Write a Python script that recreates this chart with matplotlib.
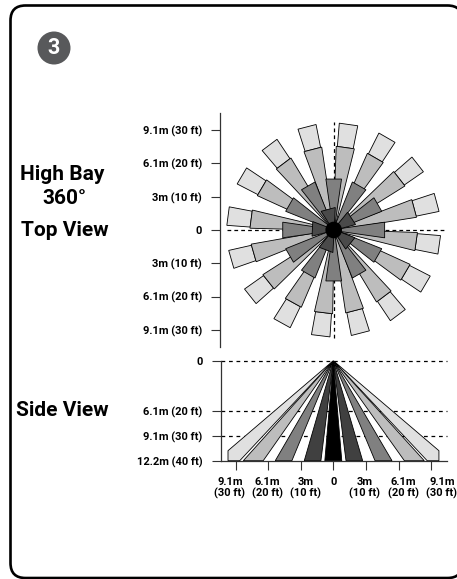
import numpy as np
import matplotlib
matplotlib.use("Agg")
import matplotlib.pyplot as plt
from matplotlib.patches import Polygon, Circle, FancyBboxPatch

plt.rcParams['font.family'] = ['Roboto', 'DejaVu Sans']
plt.rcParams['font.weight'] = 'bold'

W, H = 457, 579

# top view: beam bearings (deg clockwise from north), lengths and half widths in ft
outer_angles = [8, 30, 52, 75, 98, 120.5, 143, 165.5, 187, 209, 231.5, 254, 277.5, 300.5, 323, 345.5]
outer_r = [25, 32]
mid_r = 25
ring_angles = [0, 30, 60, 90, 120, 150, 180, 210, 240, 270, 300, 330]
ring_r = 15.3
inner_angles = [345, 57, 129, 201, 273]
inner_r = 6.4
hub_r = 2.5

top_ticks = [30, 20, 10, 0, -10, -20, -30]
top_labels = ['9.1m (30 ft)', '6.1m (20 ft)', '3m (10 ft)', '0', '3m (10 ft)', '6.1m (20 ft)', '9.1m (30 ft)']

# side view: beam footprints on the floor in ft
side_black = (-2.6, 2.6)
side_dark = [(-8.9, -3.8), (3.9, 9.0)]
side_gray = [(-17.8, -12.7), (12.8, 18.0)]
side_mid = [(-27.6, -21.5), (21.8, 27.9)]
side_light_left = [(-32.3, 36), (-32.3, 40), (-28.7, 40)]
side_light_right = [(32.4, 36), (32.4, 40), (28.8, 40)]

side_yticks = [0, 20, 30, 40]
side_ylabels = ['0', '6.1m (20 ft)', '9.1m (30 ft)', '12.2m (40 ft)']
side_xticks = [-30, -20, -10, 0, 10, 20, 30]
side_xlabels = ['9.1m\n(30 ft)', '6.1m\n(20 ft)', '3m\n(10 ft)', '0', '3m\n(10 ft)', '6.1m\n(20 ft)', '9.1m\n(30 ft)']
side_xlabel_pos = [-31.7, -20.3, -8.6, 0, 9.7, 21.5, 33.3]

LINE = '#333333'


def add_axes_px(fig, left, top, right, bottom):
    return fig.add_axes([left / W, 1 - bottom / H, (right - left) / W, (bottom - top) / H])


def beam(angle, r0, r1, half0, half1, color):
    a = np.radians(angle)
    d = np.array([np.sin(a), np.cos(a)])
    n = np.array([np.cos(a), -np.sin(a)])
    pts = [d * r0 - n * half0, d * r1 - n * half1, d * r1 + n * half1, d * r0 + n * half0]
    return Polygon(pts, closed=True, facecolor=color, edgecolor='black', linewidth=0.6, joinstyle='miter', clip_on=False)


fig = plt.figure(figsize=(W / 100, H / 100), dpi=100)

# background layer, pixel coordinates
bg = fig.add_axes([0, 0, 1, 1])
bg.set_xlim(0, W)
bg.set_ylim(H, 0)
bg.axis('off')
bg.add_patch(FancyBboxPatch((10.5, 5.5), 452, 572.5, boxstyle='round,pad=0,rounding_size=15',
                            facecolor='white', edgecolor='black', linewidth=1.9))
bg.add_patch(Circle((54, 48), 16.5, facecolor='#58595b', edgecolor='none'))
bg.text(54, 47.5, '3', color='white', fontsize=15.5, ha='center', va='center')
bg.text(62, 175, 'High Bay', fontsize=15, ha='center', va='center')
bg.text(64, 198, '360°', fontsize=15, ha='center', va='center')
bg.text(65, 231, 'Top View', fontsize=15, ha='center', va='center')
bg.text(62, 410, 'Side View', fontsize=15, ha='center', va='center')

# top view
cx, cy, scale = 333.7, 230, 3.33
ax = add_axes_px(fig, 220, 113, 450, 347)
ax.patch.set_alpha(0)
ax.set_xlim((220 - cx) / scale, (450 - cx) / scale)
ax.set_ylim((cy - 347) / scale, (cy - 113) / scale)
for s in ['top', 'right', 'bottom']:
    ax.spines[s].set_visible(False)
ax.spines['left'].set_color(LINE)
ax.spines['left'].set_linewidth(0.9)
ax.set_xticks([])
ax.set_yticks(top_ticks)
ax.set_yticklabels(top_labels, fontsize=8)
ax.tick_params(axis='y', length=6.5, width=0.8, color=LINE, pad=6.5)

ax.plot([0, 0], [-32.5, 32.5], color='black', lw=0.9, dashes=(3, 2.5), zorder=1)
ax.plot([-32, 34], [0, 0], color='black', lw=0.9, dashes=(3, 2.5), zorder=1)

for ang in outer_angles:
    ax.add_patch(beam(ang, outer_r[0], outer_r[1], 2.4, 2.8, '#e0e0e0'))
for ang in outer_angles:
    ax.add_patch(beam(ang, 0, mid_r, 0.15, 2.75, '#bdbdbd'))
for ang in ring_angles:
    ax.add_patch(beam(ang, 0, ring_r, 0.15, 2.35, '#808080'))
for ang in inner_angles:
    ax.add_patch(beam(ang, 0, inner_r, 0.15, 2.2, '#4a4a4a'))
ax.add_patch(Circle((0, 0), hub_r, facecolor='black', edgecolor='none', zorder=5))

# side view
sx, sscale = 333.3, 3.26
ax2 = add_axes_px(fig, 220.7, 360.7, 447, 460.7)
ax2.patch.set_alpha(0)
ax2.set_xlim((220.7 - sx) / sscale, (447 - sx) / sscale)
ax2.set_ylim(40, 0)
for s in ['top', 'right']:
    ax2.spines[s].set_visible(False)
for s in ['left', 'bottom']:
    ax2.spines[s].set_color(LINE)
    ax2.spines[s].set_linewidth(0.9)
ax2.set_yticks(side_yticks)
ax2.set_yticklabels(side_ylabels, fontsize=8)
ax2.set_xticks(side_xticks)
ax2.set_xticklabels([])
ax2.tick_params(axis='y', length=6.5, width=0.8, color=LINE, pad=6.5)
ax2.tick_params(axis='x', length=6.5, width=0.8, color=LINE)
for y in side_yticks[:3]:
    ax2.axhline(y, color='black', lw=0.9, dashes=(3, 3), zorder=1, clip_on=False)


def floor_beam(x0, x1, color):
    ax2.add_patch(Polygon([(0, 0), (x0, 40), (x1, 40)], closed=True, facecolor=color,
                          edgecolor='black', linewidth=0.6, zorder=3))


ax2.add_patch(Polygon([(0, 0)] + side_light_left, closed=True, facecolor='#e0e0e0',
                      edgecolor='black', linewidth=0.6, zorder=3, clip_on=False))
ax2.add_patch(Polygon([(0, 0)] + side_light_right, closed=True, facecolor='#e0e0e0',
                      edgecolor='black', linewidth=0.6, zorder=3, clip_on=False))
for x0, x1 in side_mid:
    floor_beam(x0, x1, '#bdbdbd')
for x0, x1 in side_gray:
    floor_beam(x0, x1, '#808080')
for x0, x1 in side_dark:
    floor_beam(x0, x1, '#404040')
floor_beam(side_black[0], side_black[1], 'black')

for xp, lab in zip(side_xlabel_pos, side_xlabels):
    ax2.annotate(lab, xy=(xp, 40), xytext=(0, -12), textcoords='offset points', ha='center', va='top',
                 fontsize=8, linespacing=1.0, annotation_clip=False)

fig.savefig('out.png', dpi=100)
